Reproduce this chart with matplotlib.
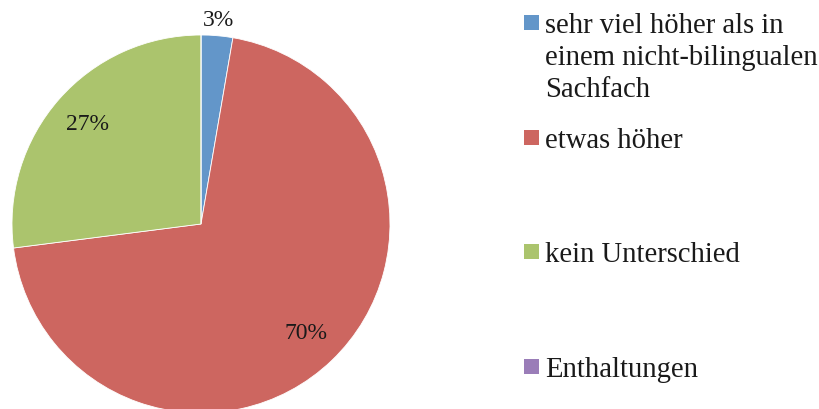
import numpy as np
import matplotlib
matplotlib.use('Agg')
import matplotlib.pyplot as plt
from matplotlib.patches import Rectangle

# answers (counts), in legend order
categories = ['sehr viel höher als in\neinem nicht-bilingualen\nSachfach',
              'etwas höher',
              'kein Unterschied',
              'Enthaltungen']
counts = [1, 26, 10, 0]
colors = ['#6396C9', '#CD6660', '#ABC46D', '#9A7DB8']

plt.rcParams['font.family'] = ['Liberation Serif', 'DejaVu Serif']

W, H = 820, 409
fig = plt.figure(figsize=(W / 100, H / 100), dpi=100)

# pie centre (201, 224) px, radius 189 px
cx, cy, r = 201, 224, 189
ax = fig.add_axes([(cx - r) / W, (H - cy - r) / H, 2 * r / W, 2 * r / H])


def pct_label(p):
    return '' if p < 0.5 else '%.0f%%' % p


wedges, texts, autotexts = ax.pie(counts, colors=colors, startangle=90, counterclock=False,
                                  autopct=pct_label, pctdistance=0.8,
                                  wedgeprops=dict(edgecolor='white', linewidth=0.6),
                                  textprops=dict(fontsize=17, color='#1a1a1a'))
ax.set_xlim(-1, 1)
ax.set_ylim(-1, 1)
ax.set_aspect('auto')
for w in wedges:
    w.set_clip_on(False)

# small slice: label sits just outside the pie
w0 = wedges[0]
mid = np.deg2rad((w0.theta1 + w0.theta2) / 2)
autotexts[0].set_position((1.08 * np.cos(mid), 1.08 * np.sin(mid)))

# legend, laid out like the office chart
box = 15
text_x = 545
baselines = [33, 148, 262, 377]
line_step = 32
for label, col, base in zip(categories, colors, baselines):
    sq_cy = base - 10.5
    fig.patches.append(Rectangle((524 / W, (H - sq_cy - box / 2) / H), box / W, box / H,
                                 transform=fig.transFigure, facecolor=col, edgecolor='none'))
    for i, line in enumerate(label.split('\n')):
        fig.text(text_x / W, (H - base - i * line_step) / H, line, fontsize=20.6,
                 va='baseline', ha='left', color='#1a1a1a')

fig.savefig('out.png', dpi=100)
